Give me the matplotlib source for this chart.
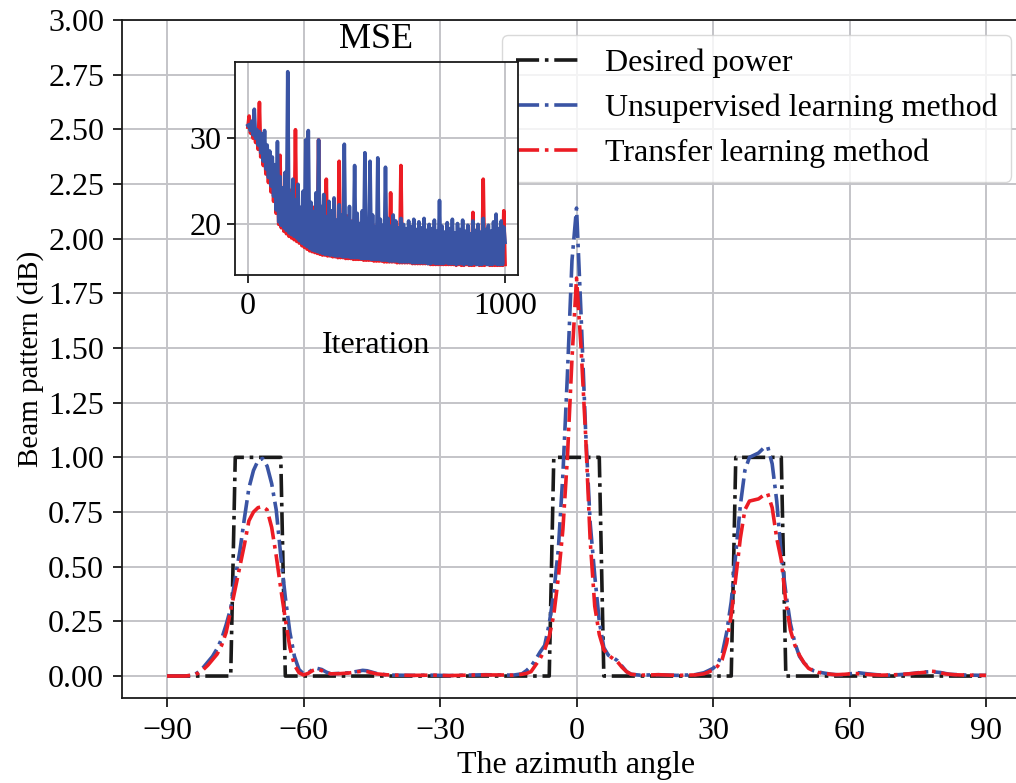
import numpy as np
import matplotlib
matplotlib.use("Agg")
import matplotlib.pyplot as plt
from matplotlib.transforms import blended_transform_factory

plt.rcParams['font.family'] = ['Liberation Serif', 'DejaVu Serif']
plt.rcParams['mathtext.fontset'] = 'stix'

# ---------------- data ----------------
desired_angle = [-90, -76, -75, -65, -64, -6, -5, 5, 6, 34, 35, 45, 46, 90]
desired_power = [0, 0, 1, 1, 0, 0, 1, 1, 0, 0, 1, 1, 0, 0]

unsup_angle = [-90, -86, -84, -83, -82, -81, -80, -79, -78, -77, -76, -75, -74, -73, -72, -71,
               -70, -69, -68, -67, -66, -65, -64, -63, -62, -61, -60, -59, -58, -57, -56, -55,
               -54, -52, -50, -48, -47, -46, -44, -42, -40, -36, -32, -28, -24, -20, -17, -14,
               -12, -11, -10, -9, -8, -7, -6, -5, -4, -3, -2, -1, 0, 1, 2, 3, 4, 5, 6, 7, 8, 9,
               10, 11, 12, 14, 18, 22, 26, 28, 29, 30, 31, 32, 33, 34, 35, 36, 37, 38, 39, 40,
               41, 42, 43, 44, 45, 46, 47, 48, 49, 50, 51, 52, 53, 54, 56, 58, 60, 62, 64, 66,
               68, 70, 72, 74, 76, 78, 80, 82, 84, 86, 90]
unsup_power = [0.0, 0.0, 0.005, 0.02, 0.04, 0.065, 0.09, 0.125, 0.17, 0.235, 0.31, 0.45, 0.57,
               0.72, 0.86, 0.94, 0.985, 0.995, 0.96, 0.88, 0.76, 0.55, 0.36, 0.20, 0.09, 0.03,
               0.01, 0.015, 0.03, 0.035, 0.03, 0.018, 0.01, 0.012, 0.015, 0.022, 0.026, 0.024,
               0.012, 0.006, 0.004, 0.003, 0.004, 0.002, 0.004, 0.006, 0.005, 0.004,
               0.01, 0.025, 0.045, 0.075, 0.11, 0.14, 0.24, 0.38, 0.58, 0.92, 1.38, 1.90, 2.14,
               1.65, 1.12, 0.70, 0.46, 0.25, 0.13, 0.095, 0.085, 0.07,
               0.045, 0.02, 0.008, 0.004, 0.006, 0.003, 0.006, 0.015, 0.025, 0.035, 0.055,
               0.10, 0.20, 0.34, 0.56, 0.78, 0.94, 1.00, 1.01, 1.02,
               1.04, 1.05, 0.97, 0.80, 0.55, 0.38, 0.24, 0.15, 0.09, 0.06, 0.04, 0.025, 0.02,
               0.015, 0.008, 0.005, 0.01, 0.015, 0.01, 0.006,
               0.004, 0.005, 0.008, 0.012, 0.018, 0.02, 0.016, 0.008, 0.006, 0.004, 0.003]

trans_angle = [-90, -86, -84, -83, -82, -81, -80, -79, -78, -77, -76, -75, -74, -73, -72, -71,
               -70, -69, -68, -67, -66, -65, -64, -63, -62, -61, -60, -59, -58, -57, -56, -55,
               -54, -52, -50, -48, -47, -46, -44, -42, -40, -36, -32, -28, -24, -20, -17, -14,
               -12, -11, -10, -9, -8, -7, -6, -5, -4, -3, -2, -1, 0, 1, 2, 3, 4, 5, 6, 7, 8, 9,
               10, 11, 12, 14, 18, 22, 26, 28, 29, 30, 31, 32, 33, 34, 35, 36, 37, 38, 39, 40,
               41, 42, 43, 44, 45, 46, 47, 48, 49, 50, 51, 52, 53, 55, 57, 59, 61, 63, 65, 67,
               69, 71, 73, 75, 77, 78, 79, 81, 83, 86, 90]
trans_power = [0.0, 0.0, 0.005, 0.015, 0.03, 0.05, 0.075, 0.10, 0.14, 0.20, 0.30, 0.40, 0.50,
               0.60, 0.71, 0.75, 0.77, 0.775, 0.76, 0.68, 0.55, 0.40, 0.26, 0.13, 0.05, 0.015,
               0.005, 0.012, 0.025, 0.03, 0.025, 0.015, 0.01, 0.011, 0.014, 0.02, 0.022, 0.02,
               0.01, 0.006, 0.004, 0.003, 0.004, 0.002, 0.004, 0.005, 0.005, 0.004,
               0.008, 0.012, 0.02, 0.05, 0.08, 0.12, 0.18, 0.28, 0.45, 0.67, 1.00, 1.45, 1.82,
               1.50, 1.10, 0.62, 0.32, 0.19, 0.12, 0.095, 0.08, 0.065,
               0.04, 0.02, 0.008, 0.004, 0.006, 0.003, 0.005, 0.01, 0.018, 0.028, 0.045,
               0.075, 0.15, 0.28, 0.45, 0.63, 0.76, 0.80, 0.805, 0.81,
               0.825, 0.835, 0.77, 0.63, 0.53, 0.34, 0.21, 0.14, 0.095, 0.06, 0.035, 0.025,
               0.017, 0.01, 0.006, 0.008, 0.012, 0.009, 0.006, 0.004,
               0.005, 0.007, 0.01, 0.014, 0.018, 0.022, 0.02, 0.01, 0.006, 0.004, 0.003]

# inset MSE curves: samples at iterations 0,10,...,1000 (troughs) and 5,15,...,995 (peaks)
mse_iter_a = list(range(0, 1001, 10))
mse_iter_b = list(range(5, 1000, 10))

mse_unsup_a = [31.5, 30.9, 30.4, 30.0, 29.2, 28.3, 27.3, 26.4, 25.4, 24.4,
               23.2, 21.6, 20.2, 19.8, 19.5, 19.2, 18.9, 18.7, 18.5, 18.3,
               18.0, 17.7, 17.5, 17.3, 17.1, 16.9, 16.8, 16.7, 16.6, 16.5,
               16.4, 16.4, 16.3, 16.3, 16.2, 16.2, 16.2, 16.1, 16.1, 16.1,
               16.0, 16.0, 16.0, 16.0, 15.9, 15.9, 15.9, 15.9, 15.8, 15.8,
               15.8, 15.8, 15.7, 15.7, 15.7, 15.6, 15.6, 15.6, 15.6, 15.5,
               15.5, 15.5, 15.5, 15.5, 15.4, 15.4, 15.4, 15.4, 15.4, 15.4,
               15.3, 15.3, 15.4, 15.3, 15.3, 15.3, 15.3, 15.4, 15.3, 15.3,
               15.3, 15.2, 15.3, 15.3, 15.2, 15.3, 15.2, 15.2, 15.3, 15.2,
               15.2, 15.2, 15.3, 15.2, 15.2, 15.2, 15.3, 15.2, 15.2, 15.2,
               17.8]
mse_unsup_b = [31.6, 32.0, 33.4, 31.0, 30.8, 30.5, 30.9, 29.2, 28.5, 27.8,
               26.9, 29.6, 25.5, 24.2, 26.0, 37.8, 23.5, 25.2, 22.8, 24.6,
               21.9, 23.8, 29.8, 30.9, 22.5, 21.4, 23.6, 29.8, 22.0, 23.4,
               20.8, 22.6, 21.5, 23.0, 20.4, 22.2, 21.0, 29.3, 20.6, 22.0,
               20.2, 26.8, 21.2, 20.0, 21.5, 28.3, 19.8, 27.3, 21.0, 19.6,
               27.7, 20.5, 19.8, 26.6, 20.6, 19.7, 21.0, 20.3, 19.5, 20.6,
               19.9, 19.4, 20.3, 19.6, 20.5, 19.3, 20.2, 19.5, 20.6, 19.2,
               19.9, 19.4, 20.4, 19.1, 22.7, 19.7, 19.0, 20.1, 19.4, 20.5,
               18.9, 20.0, 19.3, 20.4, 19.1, 19.8, 18.8, 20.3, 19.2, 19.9,
               19.0, 20.6, 19.3, 19.8, 19.1, 20.2, 21.1, 19.4, 20.3, 19.6]

mse_trans_a = [31.3, 30.6, 30.0, 29.5, 28.7, 27.8, 26.8, 25.8, 24.8, 23.7,
               22.6, 21.2, 19.9, 19.5, 19.1, 18.8, 18.5, 18.3, 18.1, 17.9,
               17.7, 17.4, 17.2, 17.0, 16.8, 16.7, 16.6, 16.5, 16.4, 16.3,
               16.3, 16.2, 16.2, 16.1, 16.1, 16.0, 16.0, 16.0, 15.9, 15.9,
               15.9, 15.8, 15.8, 15.8, 15.8, 15.7, 15.7, 15.7, 15.7, 15.6,
               15.6, 15.6, 15.6, 15.5, 15.5, 15.5, 15.5, 15.5, 15.4, 15.4,
               15.4, 15.4, 15.4, 15.4, 15.3, 15.3, 15.3, 15.3, 15.3, 15.3,
               15.3, 15.2, 15.2, 15.2, 15.2, 15.2, 15.2, 15.2, 15.2, 15.2,
               15.2, 15.1, 15.2, 15.1, 15.1, 15.2, 15.1, 15.1, 15.1, 15.2,
               15.1, 15.1, 15.1, 15.2, 15.1, 15.1, 15.1, 15.1, 15.1, 15.1,
               15.2]
mse_trans_b = [32.6, 31.2, 30.9, 30.2, 34.2, 29.8, 29.4, 28.6, 27.9, 26.8,
               25.8, 24.9, 28.0, 23.5, 24.8, 22.6, 23.9, 22.0, 31.0, 22.5,
               21.6, 23.0, 21.2, 22.4, 20.8, 21.9, 20.6, 29.8, 21.0, 20.2,
               25.2, 20.8, 19.9, 21.3, 19.6, 27.3, 20.5, 19.5, 20.9, 19.3,
               20.3, 19.1, 20.7, 19.0, 20.1, 18.9, 20.4, 18.8, 19.9, 18.7,
               20.2, 18.6, 19.7, 18.5, 20.0, 23.6, 18.4, 19.6, 18.3, 26.8,
               18.9, 18.2, 19.3, 18.1, 18.8, 18.0, 19.2, 17.9, 18.7, 17.9,
               19.0, 17.8, 18.6, 17.8, 18.9, 17.7, 18.5, 17.7, 18.8, 17.6,
               18.4, 17.6, 18.7, 17.5, 18.3, 17.5, 18.6, 21.3, 17.4, 18.5,
               17.4, 25.2, 18.2, 17.4, 18.6, 17.3, 18.1, 17.3, 18.4, 21.5]

labels = ['Desired power', 'Unsupervised learning method', 'Transfer learning method']
c_black = '#1a1a1a'
c_blue = '#3a54a4'
c_red = '#ec1c24'
grid_c = '#c4c4c8'


def merged(xa, ya, xb, yb):
    x = np.array(list(xa) + list(xb), dtype=float)
    y = np.array(list(ya) + list(yb), dtype=float)
    order = np.argsort(x, kind='stable')
    return x[order], y[order]


# ---------------- figure ----------------
fig = plt.figure(figsize=(10.16, 7.83), dpi=100)
ax = fig.add_axes([0.1196, 0.10868, 0.8957, 0.86578])

lw = 2.6
ax.plot(desired_angle, desired_power, ls='-.', color=c_black, lw=lw, label=labels[0], zorder=3)
ax.plot(unsup_angle, unsup_power, ls='-.', color=c_blue, lw=lw, label=labels[1], zorder=4)
ax.plot(trans_angle, trans_power, ls='-.', color=c_red, lw=lw, label=labels[2], zorder=5)

ax.set_xlim(-100, 100)
ax.set_ylim(-0.1, 3.0)
ax.set_xticks([-90, -60, -30, 0, 30, 60, 90])
ax.set_yticks(np.arange(0, 3.01, 0.25))
ax.yaxis.set_major_formatter(matplotlib.ticker.FormatStrFormatter('%.2f'))
ax.grid(True, color=grid_c, lw=1.4)
ax.set_axisbelow(True)
ax.tick_params(direction='out', length=6.5, width=1.3, labelsize=23, color=c_black)
ax.tick_params(axis='x', pad=7.5)
ax.tick_params(axis='y', pad=6)
for s in ax.spines.values():
    s.set_linewidth(1.3)
    s.set_color(c_black)
ax.set_xlabel('The azimuth angle', fontsize=23, labelpad=3)
ax.set_ylabel('Beam pattern (dB)', fontsize=21, labelpad=3)

leg = ax.legend(loc='upper right', bbox_to_anchor=(1011/1016, 1 - 35/783),
                bbox_transform=fig.transFigure, borderaxespad=0, fontsize=23,
                handlelength=1.95, handletextpad=0.85, labelspacing=0.49,
                borderpad=0.42, fancybox=True, framealpha=0.8, edgecolor='#d0d0d0')

# ---------------- inset ----------------
axi = fig.add_axes([0.2313, 0.6488, 0.2785, 0.2720])
xr, yr = merged(mse_iter_a, mse_trans_a, mse_iter_b, mse_trans_b)
xu, yu = merged(mse_iter_a, mse_unsup_a, mse_iter_b, mse_unsup_b)
axi.plot(xr, yr, color=c_red, lw=2.6, solid_joinstyle='round')
axi.plot(xu, yu, color=c_blue, lw=2.6, solid_joinstyle='round')
axi.set_xticks([0, 1000])
axi.set_yticks([20, 30])
axi.grid(True, color=grid_c, lw=1.4)
axi.set_axisbelow(True)
# main vertical grid lines passing through the inset
bt = blended_transform_factory(ax.transData, axi.transAxes)
for gx in [-60, -30]:
    axi.plot([gx, gx], [0, 1], transform=bt, color=grid_c, lw=1.4, zorder=0.5)
axi.tick_params(direction='out', length=6, width=1.3, labelsize=23, color=c_black)
axi.tick_params(axis='x', pad=6)
for s in axi.spines.values():
    s.set_linewidth(1.3)
    s.set_color(c_black)
axi.set_title('MSE', fontsize=26, pad=10)
axi.set_xlabel('Iteration', fontsize=23, labelpad=7.5)

fig.savefig('out.png', dpi=100)
